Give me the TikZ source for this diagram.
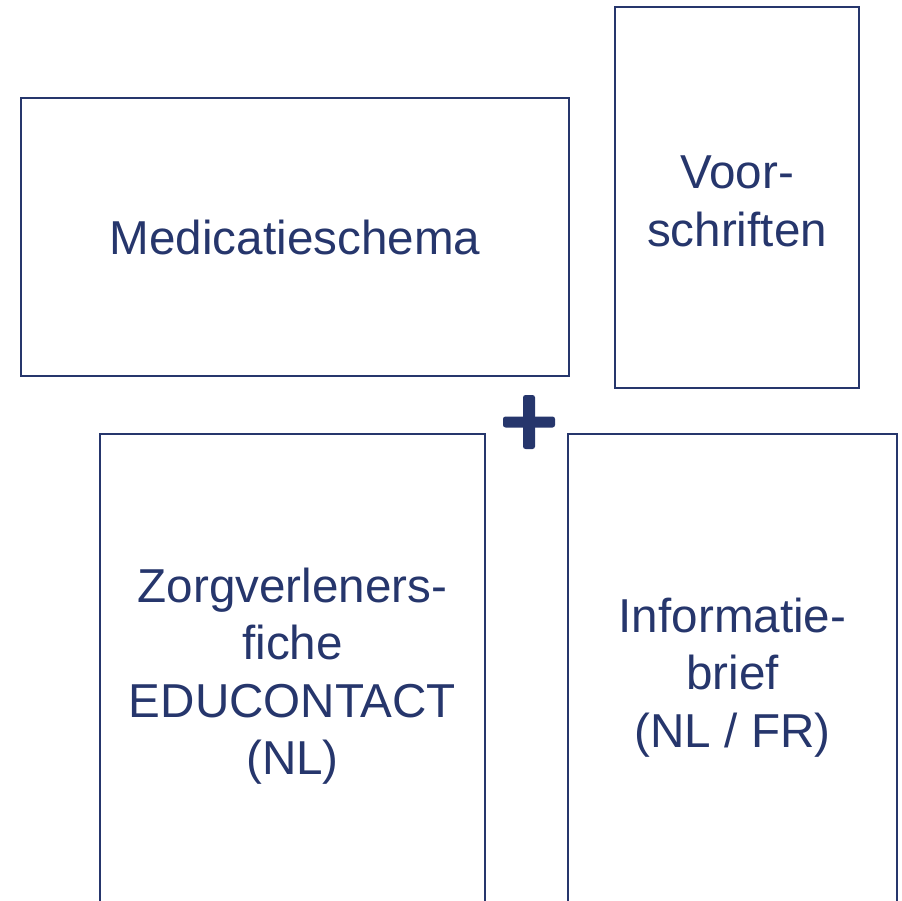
\documentclass[tikz,border=0pt]{standalone}
\usepackage{fontspec}
\setmainfont{Liberation Sans}
\definecolor{navy}{RGB}{38,54,108}
\begin{document}
\begin{tikzpicture}[x=1pt,y=-1pt,
  card/.style={draw=navy,line width=2pt,rectangle,inner sep=0pt,text=navy,align=center,
    font=\fontsize{47.6pt}{57.5pt}\selectfont},
  cardtext/.style={inner sep=0pt,text=navy,align=center,
    font=\fontsize{47.6pt}{57.5pt}\selectfont},
]
\useasboundingbox (0,0) rectangle (902,901);
\clip (0,0) rectangle (902,901);
\node[card,minimum width=548pt,minimum height=278pt] (med) at (295,237) {Medicatieschema};
\node[card,minimum width=244pt,minimum height=381pt] (voor) at (737,197.5) {};
\node[cardtext] (voortxt) at ([yshift=-4pt]voor.center) {Voor-\\schriften};
\node[card,minimum width=385pt,minimum height=484pt] (zorg) at (292.5,676) {Zorgverleners-\\fiche\\EDUCONTACT\\(NL)};
\node[card,minimum width=329pt,minimum height=484pt] (info) at (732.5,676) {};
\node[cardtext] (infotxt) at ([yshift=-1.5pt]info.center) {Informatie-\\brief\\(NL / FR)};
\fill[navy,rounded corners=2.5pt] (503,416.5) rectangle (555,427.5);
\fill[navy,rounded corners=2.5pt] (523,395) rectangle (535,449);
\end{tikzpicture}
\end{document}
